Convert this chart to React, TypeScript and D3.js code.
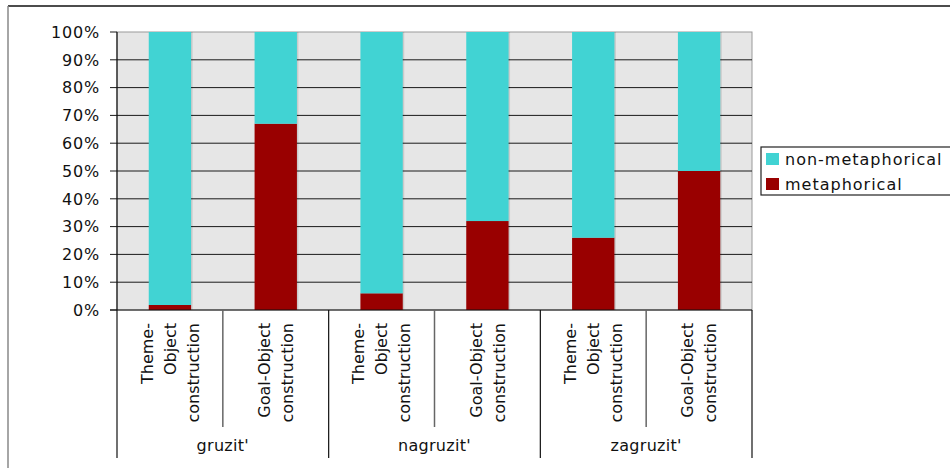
import React from "react";
import * as d3 from "d3";

// Verbs (groups) and the two constructions charted for each one
const groups = ["gruzit'", "nagruzit'", "zagruzit'"];
const constructions = [["Theme-", "Object", "construction"], ["Goal-Object", "construction"]];
// Share of metaphorical uses, in the order gruzit' T/G, nagruzit' T/G, zagruzit' T/G
const metaphorical = [0.018, 0.67, 0.06, 0.32, 0.26, 0.5];
const yTicks = [0, 0.1, 0.2, 0.3, 0.4, 0.5, 0.6, 0.7, 0.8, 0.9, 1];
const seriesNames = ["non-metaphorical", "metaphorical"];
const seriesColors = ["#41d3d3", "#990000"];

const W = 950;
const H = 468;
const plot = { left: 117, right: 752, top: 32, bottom: 310 };
const FONT = "'DejaVu Sans', Verdana, sans-serif";

export default function App() {
  const cats = d3.range(groups.length * constructions.length).map(String);
  const x = d3.scaleBand<string>().domain(cats).range([plot.left, plot.right]).paddingInner(0.6).paddingOuter(0.3);
  const xOuter = d3.scaleBand<string>().domain(cats).range([plot.left, plot.right]);
  const y = d3.scaleLinear().domain([0, 1]).range([plot.bottom, plot.top]);
  const gx = d3.scaleBand<string>().domain(groups).range([plot.left, plot.right]);

  const stacked = metaphorical.map((m) => [
    { key: 1, y0: 0, y1: m },
    { key: 0, y0: m, y1: 1 },
  ]);

  return (
    <svg width={W} height={H} style={{ position: "absolute", left: 0, top: 0, background: "#fff" }}>
      {/* outer frame */}
      <line x1={8} y1={6} x2={W} y2={6} stroke="#111" strokeWidth={1.5} />
      <line x1={8} y1={6} x2={8} y2={H} stroke="#888" strokeWidth={1.5} />

      {/* plot background */}
      <rect x={plot.left} y={plot.top} width={plot.right - plot.left} height={plot.bottom - plot.top} fill="#e6e6e6" stroke="#9a9a9a" strokeWidth={1} />

      {/* grid lines and y ticks */}
      {yTicks.map((t) => (
        <g key={t}>
          {t > 0 && t < 1 && (
            <line x1={plot.left} x2={plot.right} y1={y(t)} y2={y(t)} stroke="#1a1a1a" strokeWidth={1} />
          )}
          <line x1={plot.left - 7} x2={plot.left} y1={y(t)} y2={y(t)} stroke="#1a1a1a" strokeWidth={1} />
          <text x={100} y={y(t)} dy="0.36em" textAnchor="end" fontFamily={FONT} fontSize={16} letterSpacing={0.8} fill="#111">
            {d3.format(".0%")(t)}
          </text>
        </g>
      ))}

      {/* bars */}
      {stacked.map((segs, i) => {
        const bx = x(String(i))!;
        const bw = x.bandwidth();
        return (
          <g key={i}>
            <rect x={bx + 1.5} y={y(1)} width={bw} height={y(0) - y(1)} fill="#000" opacity={0.12} />
            {segs.map((s) => (
              <rect key={s.key} x={bx} y={y(s.y1)} width={bw} height={y(s.y0) - y(s.y1)} fill={seriesColors[s.key]} />
            ))}
          </g>
        );
      })}

      {/* axes lines */}
      <line x1={plot.left} x2={plot.left} y1={plot.top} y2={plot.bottom} stroke="#111" strokeWidth={1.2} />
      <line x1={plot.left - 7} x2={plot.right} y1={plot.bottom} y2={plot.bottom} stroke="#111" strokeWidth={1.2} />

      {/* category separators and labels */}
      {cats.map((c, i) => {
        const lines = constructions[i % constructions.length];
        const cx = xOuter(c)! + xOuter.bandwidth() / 2;
        const sep = xOuter(c)! + xOuter.bandwidth();
        return (
          <g key={c}>
            {i % constructions.length === 0 && (
              <line x1={sep} x2={sep} y1={plot.bottom} y2={427} stroke="#666" strokeWidth={1.5} />
            )}
            {lines.map((ln, j) => (
              <text
                key={j}
                transform={`translate(${cx + (j - (lines.length - 1) / 2) * 23},323) rotate(-90)`}
                textAnchor="end"
                dy="0.35em"
                fontFamily={FONT}
                fontSize={16}
                fill="#111"
              >
                {ln}
              </text>
            ))}
          </g>
        );
      })}

      {/* group separators and labels */}
      {groups.map((g, i) => (
        <g key={g}>
          <line x1={gx(g)!} x2={gx(g)!} y1={plot.bottom} y2={458} stroke="#111" strokeWidth={1.2} />
          {i === groups.length - 1 && (
            <line x1={plot.right} x2={plot.right} y1={plot.bottom} y2={458} stroke="#111" strokeWidth={1.2} />
          )}
          <text x={gx(g)! + gx.bandwidth() / 2} y={451} textAnchor="middle" fontFamily={FONT} fontSize={16} letterSpacing={0.3} fill="#111">
            {g}
          </text>
        </g>
      ))}

      {/* legend */}
      <rect x={761} y={147} width={W - 761 + 2} height={48} fill="#fff" stroke="#222" strokeWidth={1.2} />
      {seriesNames.map((n, i) => (
        <g key={n}>
          <rect x={766} y={153 + i * 25} width={13} height={12} fill={seriesColors[i]} />
          <text x={785} y={165 + i * 25} fontFamily={FONT} fontSize={16} letterSpacing={1} fill="#111">
            {n}
          </text>
        </g>
      ))}
    </svg>
  );
}
